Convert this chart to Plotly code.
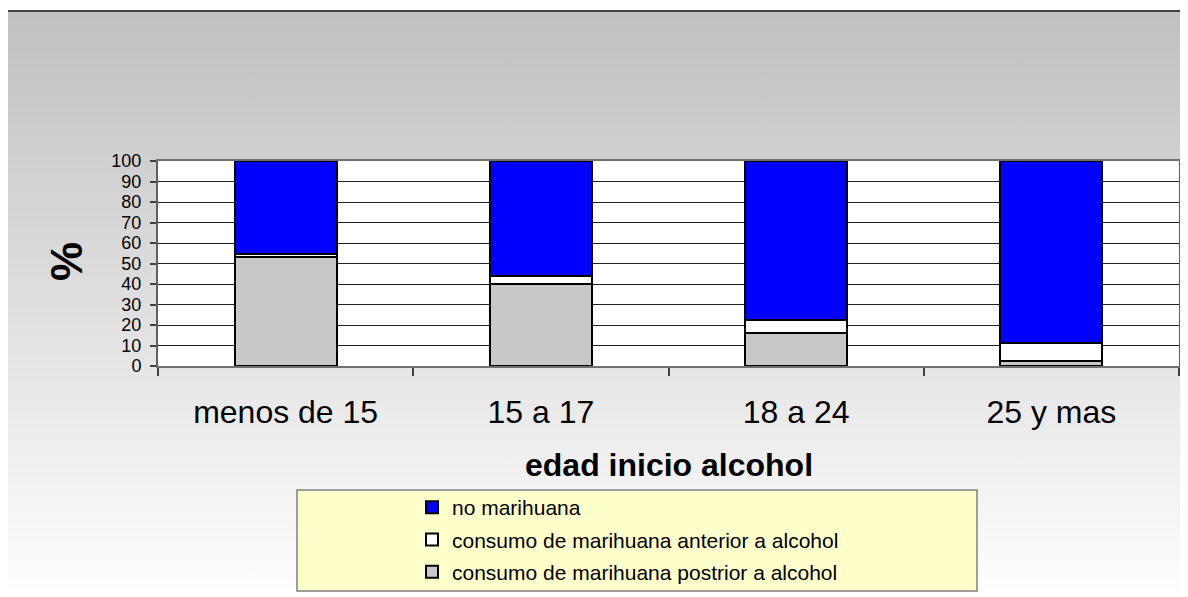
import base64
import plotly.graph_objects as go

categories = ["menos de 15", "15 a 17", "18 a 24", "25 y mas"]
posterior = [53.0, 40.0, 16.0, 2.6]
anterior = [1.5, 4.0, 6.6, 8.7]
no_marihuana = [45.5, 56.0, 77.4, 88.7]
y_ticks = list(range(0, 101, 10))

FONT = "Arial, Liberation Sans, sans-serif"

OFF = 8  # page body margin
W, H = 1180, 589
L, R, T, B = 158, 1179, 161, 366  # plot area in screen pixels
pw, ph = R - L, B - T


def px(xp):
    return (xp - L) / pw


def py(yp):
    return (B - yp) / ph


fig = go.Figure()
fig.add_trace(go.Bar(
    x=categories, y=posterior, name="consumo de marihuana postrior a alcohol",
    marker=dict(color="#c8c8c8", line=dict(color="black", width=2)),
    legendgroup="c", legendrank=3, width=0.4,
))
fig.add_trace(go.Bar(
    x=categories, y=anterior, name="consumo de marihuana anterior a alcohol",
    marker=dict(color="#ffffff", line=dict(color="black", width=2)),
    legendgroup="b", legendrank=2, width=0.4,
))
fig.add_trace(go.Bar(
    x=categories, y=no_marihuana, name="no marihuana",
    marker=dict(color="#0000ff", line=dict(color="black", width=2)),
    legendgroup="a", legendrank=1, width=0.4,
))

svg = ('<svg xmlns="http://www.w3.org/2000/svg" width="10" height="100" '
       'viewBox="0 0 10 100" preserveAspectRatio="none"><defs>'
       '<linearGradient id="g" x1="0" y1="0" x2="0" y2="1">'
       '<stop offset="0" stop-color="#c0c0c0"/><stop offset="1" stop-color="#ffffff"/>'
       '</linearGradient></defs><rect width="10" height="100" fill="url(#g)"/></svg>')
src = "data:image/svg+xml;base64," + base64.b64encode(svg.encode()).decode()

fig.update_layout(
    width=W, height=H,
    margin=dict(l=L - OFF, r=W - (R - OFF), t=T - OFF, b=H - (B - OFF), autoexpand=False),
    barmode="stack",
    paper_bgcolor="white",
    plot_bgcolor="white",
    font=dict(family=FONT, color="black"),
    showlegend=True,
    legend=dict(
        x=px(412), y=py(487), xanchor="left", yanchor="top",
        bgcolor="rgba(0,0,0,0)", borderwidth=0,
        font=dict(size=21, family=FONT, color="black"),
        traceorder="grouped", tracegroupgap=2,
    ),
    xaxis=dict(
        type="category", tickson="boundaries", ticks="outside", ticklen=8,
        tickcolor="#404040", tickwidth=1.5,
        tickfont=dict(size=32, family=FONT),
        ticklabelstandoff=17,
        showline=True, linecolor="#707070", linewidth=2, mirror=True,
        showgrid=False,
    ),
    yaxis=dict(
        range=[0, 100], tickvals=y_ticks, ticks="outside", ticklen=6,
        tickcolor="#404040", tickwidth=1.5,
        tickfont=dict(size=18, family=FONT),
        ticklabelstandoff=5,
        showline=True, linecolor="#606060", linewidth=2, mirror=True,
        showgrid=True, gridcolor="#202020", gridwidth=1,
        zeroline=False,
    ),
    images=[dict(
        source=src, xref="paper", yref="paper",
        x=px(7), y=py(11), sizex=1.2, sizey=2.9,
        xanchor="left", yanchor="top", sizing="stretch", layer="below",
    )],
    shapes=[
        dict(type="rect", xref="paper", yref="paper", layer="below",
             x0=0, x1=1, y0=0, y1=1,
             line=dict(width=0), fillcolor="white"),
        dict(type="rect", xref="paper", yref="paper", layer="below",
             x0=px(7), x1=px(1200), y0=py(610), y1=py(11),
             line=dict(color="#404040", width=2), fillcolor="rgba(0,0,0,0)"),
        dict(type="rect", xref="paper", yref="paper", layer="below",
             x0=px(297), x1=px(977), y0=py(591), y1=py(490),
             line=dict(color="#808080", width=1.5), fillcolor="#ffffcc"),
    ],
    annotations=[
        dict(text="<b>edad inicio alcohol</b>", xref="paper", yref="paper",
             x=0.5, y=py(465), xanchor="center", yanchor="middle",
             showarrow=False, font=dict(size=32, family=FONT)),
        dict(text="<b>%</b>", xref="paper", yref="paper",
             x=px(66), y=py(262), xanchor="center", yanchor="middle",
             textangle=-90, showarrow=False, font=dict(size=44, family=FONT)),
    ],
)

fig.write_html("out.html")
